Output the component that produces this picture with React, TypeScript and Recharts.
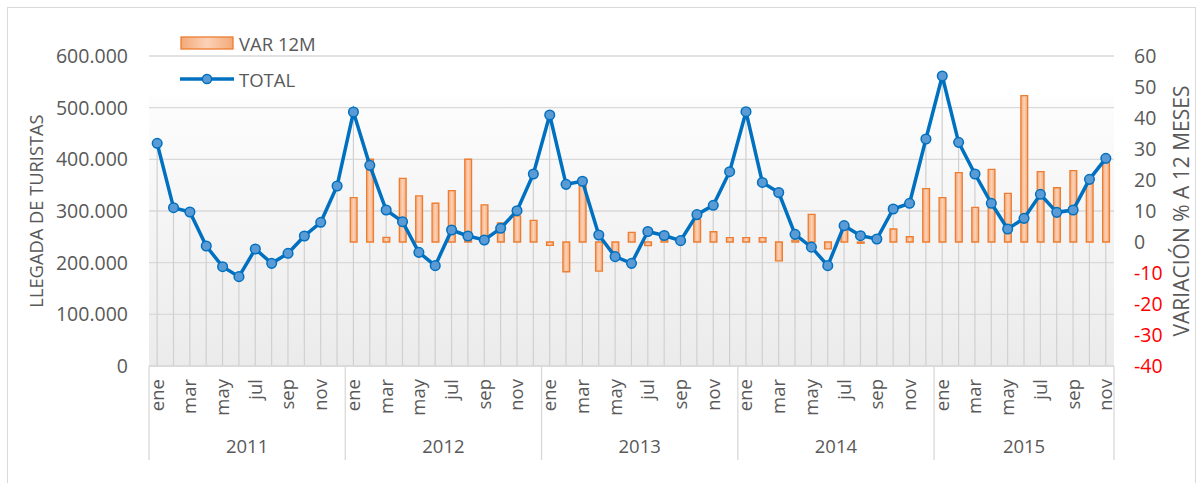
import React from 'react'
import { ComposedChart, Bar, Line, XAxis, YAxis, CartesianGrid, Legend } from 'recharts'

const FONT = '"Open Sans", "Noto Sans", sans-serif'
const TEXT = '#595959'
const GRID = '#d9d9d9'

const MONTHS = ['ene', 'feb', 'mar', 'abr', 'may', 'jun', 'jul', 'ago', 'sep', 'oct', 'nov', 'dic']
const YEARS = ['2011', '2012', '2013', '2014', '2015']

// llegada de turistas por mes
const TOTAL_2011 = [431000, 306400, 298000, 232300, 192200, 172900, 226500, 198700, 218100, 251600, 278100, 348400]
const TOTAL_2012 = [491600, 388400, 301900, 279300, 220000, 194200, 263200, 251600, 243900, 266500, 300600, 371600]
const TOTAL_2013 = [485800, 351600, 357500, 253500, 211600, 198700, 260300, 252500, 242600, 293000, 311000, 376100]
const TOTAL_2014 = [492200, 355300, 335800, 254800, 230000, 194200, 271600, 252200, 245800, 303900, 314900, 439400]
const TOTAL_2015 = [561300, 432900, 371600, 314900, 265200, 285800, 332300, 297400, 301900, 361300, 401900]

// variación % a 12 meses
const VAR_2011 = [null, null, null, null, null, null, null, null, null, null, null, null]
const VAR_2012 = [14.3, 26.7, 1.5, 20.5, 14.9, 12.5, 16.6, 26.7, 12.0, 6.2, 8.4, 7.0]
const VAR_2013 = [-1.1, -9.6, 18.5, -9.4, -3.8, 3.1, -1.2, 1.0, -0.5, 7.3, 3.3, 1.4]
const VAR_2014 = [1.4, 1.4, -6.1, 0.6, 8.9, -2.2, 4.4, -0.4, 1.2, 4.2, 1.7, 17.2]
const VAR_2015 = [14.3, 22.4, 11.2, 23.4, 15.7, 47.2, 22.7, 17.5, 23.0, 19.5, 26.5]

const LEFT_TICKS = [0, 100000, 200000, 300000, 400000, 500000, 600000]
const RIGHT_TICKS = [-40, -30, -20, -10, 0, 10, 20, 30, 40, 50, 60]

const TOTALS = [TOTAL_2011, TOTAL_2012, TOTAL_2013, TOTAL_2014, TOTAL_2015]
const VARS: (number | null)[][] = [VAR_2011, VAR_2012, VAR_2013, VAR_2014, VAR_2015]

const data = YEARS.flatMap((year, yi) =>
  TOTALS[yi].map((total, mi) => ({
    key: `${MONTHS[mi]}-${year}`,
    month: MONTHS[mi],
    mi,
    year,
    count: TOTALS[yi].length,
    total,
    var: VARS[yi][mi],
  }))
)

const CHART_W = 1201
const CHART_H = 483
const LEFT_W = 149
const RIGHT_W = 87
const XAXIS_H = 117
const HALF_BAND = (CHART_W - LEFT_W - RIGHT_W) / data.length / 2

const fmtThousands = (v: number) => String(v).replace(/\B(?=(\d{3})+(?!\d))/g, '.')

function LeftTick({ x, y, payload }: any) {
  return (
    <text x={x} y={y} dy="0.36em" textAnchor="end" fontSize={19.5} fill={TEXT} fontFamily={FONT}>
      {fmtThousands(payload.value)}
    </text>
  )
}

function RightTick({ x, y, payload }: any) {
  const v = payload.value
  return (
    <text x={x} y={y} dy="0.36em" textAnchor="start" fontSize={19.5} fill={v < 0 ? '#ff0000' : TEXT} fontFamily={FONT}>
      {v}
    </text>
  )
}

function MonthTick({ x, y, payload, index }: any) {
  const i = payload?.index ?? index
  const d = data[i]
  if (!d) return null
  const mid = (d.count - 1) / 2
  const showYear = d.mi === Math.floor(mid)
  const yearX = x + (mid - Math.floor(mid)) * 2 * HALF_BAND
  return (
    <g>
      {d.mi % 2 === 0 && (
        <text
          x={x}
          y={y + 13}
          dy="0.35em"
          textAnchor="end"
          transform={`rotate(-90, ${x}, ${y + 13})`}
          fontSize={18.5}
          fill={TEXT}
          fontFamily={FONT}
        >
          {d.month}
        </text>
      )}
      {d.mi === 0 && <line x1={x - HALF_BAND} x2={x - HALF_BAND} y1={y} y2={y + 94} stroke={GRID} strokeWidth={1.3} />}
      {i === data.length - 1 && (
        <line x1={x + HALF_BAND} x2={x + HALF_BAND} y1={y} y2={y + 94} stroke={GRID} strokeWidth={1.3} />
      )}
      {showYear && (
        <text x={yearX} y={y + 87} textAnchor="middle" fontSize={18.5} fill={TEXT} fontFamily={FONT}>
          {d.year}
        </text>
      )}
    </g>
  )
}

function AxisTitle({ viewBox, text, dx, size }: any) {
  const vb = viewBox || { x: 0, y: 0, width: 0, height: 0 }
  const cx = vb.x + dx
  const cy = vb.y + vb.height / 2
  return (
    <text
      x={cx}
      y={cy}
      textAnchor="middle"
      dominantBaseline="central"
      transform={`rotate(-90, ${cx}, ${cy})`}
      fontSize={size}
      fill={TEXT}
      fontFamily={FONT}
    >
      {text}
    </text>
  )
}

// drop line from each TOTAL point to the axis
function DropLine({ x, y, width, height }: any) {
  if (x == null || y == null) return null
  const cx = x + width / 2
  return <line x1={cx} x2={cx} y1={y} y2={y + height} stroke="#d0d0d0" strokeWidth={1.2} />
}

function LegendBox({ payload }: any) {
  const items = payload || []
  const varItem = items.find((p: any) => p.dataKey === 'var')
  const totItem = items.find((p: any) => p.dataKey === 'total')
  return (
    <svg width={170} height={64} style={{ display: 'block' }}>
      <defs>
        <linearGradient id="legBar" x1="0" y1="0" x2="1" y2="0">
          <stop offset="0%" stopColor="#f4a978" />
          <stop offset="50%" stopColor="#fbd2b7" />
          <stop offset="100%" stopColor="#f4a978" />
        </linearGradient>
      </defs>
      {varItem && (
        <g>
          <rect x={3} y={7} width={52} height={12} fill="url(#legBar)" stroke="#ed7d31" strokeWidth={1.3} />
          <text x={61} y={13} dominantBaseline="central" fontSize={18.5} fill={TEXT} fontFamily={FONT}>
            {varItem.value}
          </text>
        </g>
      )}
      {totItem && (
        <g>
          <line x1={2} x2={56} y1={49} y2={49} stroke="#0070c0" strokeWidth={3.5} />
          <circle cx={29} cy={49} r={4.6} fill="#5b9bd5" stroke="#0070c0" strokeWidth={1.5} />
          <text x={61} y={49} dominantBaseline="central" fontSize={18.5} fill={TEXT} fontFamily={FONT}>
            {totItem.value}
          </text>
        </g>
      )}
    </svg>
  )
}

export default function App() {
  return (
    <div
      style={{
        position: 'absolute',
        left: 0,
        top: 0,
        width: CHART_W,
        height: CHART_H,
        overflow: 'hidden',
        background: '#fff',
        fontFamily: FONT,
      }}
    >
      <div
        style={{
          position: 'absolute',
          left: 7,
          top: 7,
          width: 1189,
          height: 500,
          border: `1px solid ${GRID}`,
          boxSizing: 'border-box',
        }}
      />
      <ComposedChart width={CHART_W} height={CHART_H} data={data} margin={{ top: 56, right: 0, bottom: 0, left: 0 }}>
        <defs>
          <linearGradient id="plotBg" x1="0" y1="0" x2="0" y2="1">
            <stop offset="0%" stopColor="#ffffff" />
            <stop offset="13%" stopColor="#ffffff" />
            <stop offset="13.2%" stopColor="#fdfdfd" />
            <stop offset="100%" stopColor="#ebebeb" />
          </linearGradient>
          <linearGradient id="barFill" x1="0" y1="0" x2="1" y2="0">
            <stop offset="0%" stopColor="#f4a978" />
            <stop offset="50%" stopColor="#fbd2b7" />
            <stop offset="100%" stopColor="#f4a978" />
          </linearGradient>
        </defs>
        <CartesianGrid yAxisId="left" vertical={false} stroke={GRID} strokeWidth={1.3} fill="url(#plotBg)" />
        <XAxis
          dataKey="key"
          height={XAXIS_H}
          interval={0}
          tickSize={0}
          tickMargin={0}
          tickLine={false}
          axisLine={{ stroke: GRID, strokeWidth: 1.3 }}
          tick={<MonthTick />}
        />
        <XAxis xAxisId="drop" dataKey="key" hide />
        <YAxis
          yAxisId="left"
          orientation="left"
          width={LEFT_W}
          domain={[0, 600000]}
          ticks={LEFT_TICKS}
          interval={0}
          axisLine={false}
          tickLine={false}
          tickSize={0}
          tickMargin={21}
          tick={<LeftTick />}
          label={<AxisTitle text="LLEGADA DE TURISTAS" dx={35} size={18.3} />}
        />
        <YAxis
          yAxisId="right"
          orientation="right"
          width={RIGHT_W}
          domain={[-40, 60]}
          ticks={RIGHT_TICKS}
          interval={0}
          axisLine={false}
          tickLine={false}
          tickSize={0}
          tickMargin={20}
          tick={<RightTick />}
          label={<AxisTitle text="VARIACIÓN % A 12 MESES" dx={67} size={21} />}
        />
        <Legend
          layout="horizontal"
          verticalAlign="middle"
          align="center"
          wrapperStyle={{ left: 178, top: 30, width: 'auto' }}
          content={<LegendBox />}
        />
        <Bar
          xAxisId="drop"
          yAxisId="left"
          dataKey="total"
          legendType="none"
          shape={<DropLine />}
          isAnimationActive={false}
        />
        <Bar
          yAxisId="right"
          dataKey="var"
          name="VAR 12M"
          barSize={6.8}
          fill="url(#barFill)"
          stroke="#ed7d31"
          strokeWidth={1.3}
          isAnimationActive={false}
        />
        <Line
          yAxisId="left"
          dataKey="total"
          name="TOTAL"
          stroke="#0070c0"
          strokeWidth={3.5}
          dot={{ r: 4.8, fill: '#5b9bd5', stroke: '#0070c0', strokeWidth: 1.5 }}
          activeDot={false}
          isAnimationActive={false}
        />
      </ComposedChart>
    </div>
  )
}
